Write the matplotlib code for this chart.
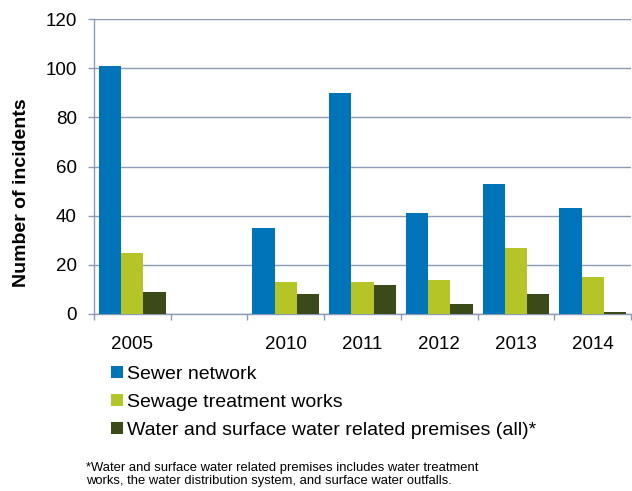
import numpy as np
import matplotlib
matplotlib.use("Agg")
import matplotlib.pyplot as plt
from matplotlib.ticker import FixedLocator, NullFormatter, FixedFormatter

plt.rcParams['font.family'] = ['Liberation Sans', 'DejaVu Sans']

categories = ["2005", "", "2010", "2011", "2012", "2013", "2014"]
sewer_network = [101, np.nan, 35, 90, 41, 53, 43]
sewage_treatment = [25, np.nan, 13, 13, 14, 27, 15]
water_premises = [9, np.nan, 8, 12, 4, 8, 1]
series_names = ["Sewer network", "Sewage treatment works",
                "Water and surface water related premises (all)*"]
colors = ["#0074B8", "#B5C427", "#3A4A18"]
footnote = ("*Water and surface water related premises includes water treatment\n"
            "works, the water distribution system, and surface water outfalls.")

grid_c = "#8C9BB5"

fig = plt.figure(figsize=(6.32, 4.91), dpi=100)
ax = fig.add_axes([94/632, 1-314/491, 537/632, 295/491])

x = np.arange(len(categories))
w = 0.29
series = [sewer_network, sewage_treatment, water_premises]
handles = []
for i, (vals, c, name) in enumerate(zip(series, colors, series_names)):
    b = ax.bar(x + (i-1)*w, vals, width=w, color=c, label=name, zorder=3)
    handles.append(b)

ax.set_xlim(-0.5, len(categories)-0.5)
ax.set_ylim(0, 120)
ax.set_yticks(np.arange(0, 121, 20))
ax.yaxis.grid(True, color=grid_c, linewidth=1.0, zorder=0)
ax.set_axisbelow(True)

ax.xaxis.set_major_locator(FixedLocator(np.arange(-0.5, len(categories), 1.0)))
ax.xaxis.set_major_formatter(NullFormatter())
ax.xaxis.set_minor_locator(FixedLocator(x))
ax.xaxis.set_minor_formatter(FixedFormatter(categories))
ax.tick_params(axis='x', which='major', length=4.5, width=1.0, color=grid_c)
ax.tick_params(axis='x', which='minor', length=0, pad=16, labelsize=13.5)
ax.tick_params(axis='y', length=4.5, width=1.0, color=grid_c, pad=8, labelsize=13.5)

for s in ['top', 'right']:
    ax.spines[s].set_visible(False)
for s in ['left', 'bottom']:
    ax.spines[s].set_color(grid_c)
    ax.spines[s].set_linewidth(1.0)

ax.set_ylabel("Number of incidents", fontsize=14, fontweight='bold', labelpad=12)
ax.yaxis.set_label_coords(-0.120, 0.41)

fig.legend(handles=handles, labels=series_names, loc='upper left',
           bbox_to_anchor=(111/632, 1-366/491), frameon=False, fontsize=14,
           handlelength=0.6, handleheight=0.6, handletextpad=0.2,
           labelspacing=0.56, borderaxespad=0, borderpad=0)

fig.text(86/632, 1-487/491, footnote, fontsize=9.4, ha='left', va='bottom',
         linespacing=1.12)

fig.savefig("out.png", dpi=100)
